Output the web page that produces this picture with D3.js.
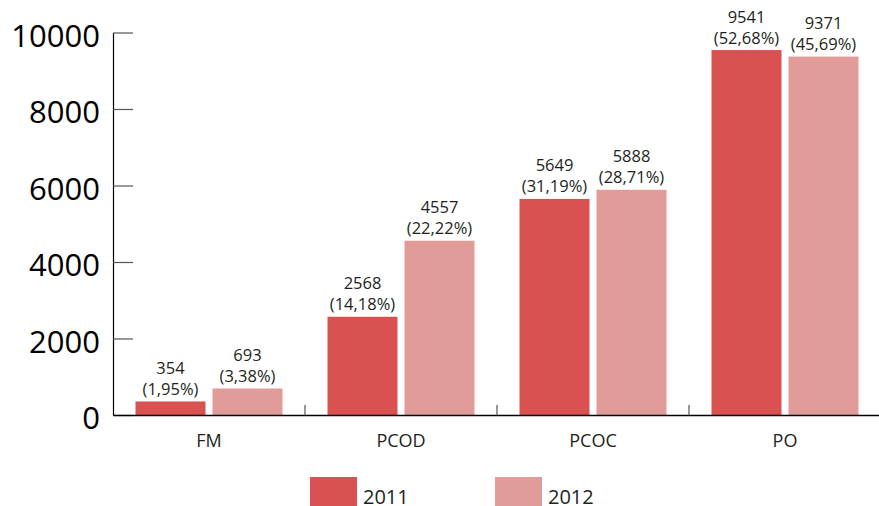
<!DOCTYPE html>
<html>
<head>
<meta charset="utf-8">
<script src="https://cdn.jsdelivr.net/npm/d3@7"></script>
<style>
  body { margin: 0; background: #fff; }
  svg { display: block; font-family: "Open Sans", sans-serif; }
</style>
</head>
<body>
<svg id="chart" width="879" height="506"></svg>
<script>
// data
var categories = ["FM", "PCOD", "PCOC", "PO"];
var years = ["2011", "2012"];
var values2011 = [354, 2568, 5649, 9541];
var values2012 = [693, 4557, 5888, 9371];
var shares2011 = ["1,95%", "14,18%", "31,19%", "52,68%"];
var shares2012 = ["3,38%", "22,22%", "28,71%", "45,69%"];
var yTicks = [0, 2000, 4000, 6000, 8000, 10000];
var colors = { "2011": "#d95150", "2012": "#e19b99" };

var rows = categories.map(function(c, i) {
    return {
        cat: c,
        bars: [
            { year: "2011", value: values2011[i], share: shares2011[i] },
            { year: "2012", value: values2012[i], share: shares2012[i] }
        ]
    };
});

var svg = d3.select("#chart");
var plotLeft = 113, plotTop = 32.5, plotBottom = 415;

var x0 = d3.scaleBand()
    .domain(categories)
    .range([plotLeft, plotLeft + 192 * categories.length]);

var x1 = d3.scaleBand()
    .domain(years)
    .range([22.5, 169.5])
    .paddingInner(7 / 77);

var y = d3.scaleLinear()
    .domain([0, 10000])
    .range([plotBottom, plotTop]);

// bars
var groups = svg.append("g").selectAll("g")
    .data(rows)
    .join("g")
    .attr("transform", function(d) { return "translate(" + x0(d.cat) + ",0)"; });

groups.selectAll("rect")
    .data(function(d) { return d.bars; })
    .join("rect")
    .attr("x", function(d) { return x1(d.year); })
    .attr("y", function(d) { return y(d.value); })
    .attr("width", x1.bandwidth())
    .attr("height", function(d) { return y(0) - y(d.value); })
    .attr("fill", function(d) { return colors[d.year]; });

// value labels, two lines
var labels = groups.selectAll("text")
    .data(function(d) { return d.bars; })
    .join("text")
    .attr("text-anchor", "middle")
    .attr("font-size", "16.5px")
    .attr("fill", "#231f20");
labels.append("tspan")
    .attr("x", function(d) { return x1(d.year) + x1.bandwidth() / 2; })
    .attr("y", function(d) { return y(d.value) - 27.5; })
    .text(function(d) { return d.value; });
labels.append("tspan")
    .attr("x", function(d) { return x1(d.year) + x1.bandwidth() / 2; })
    .attr("y", function(d) { return y(d.value) - 6.5; })
    .text(function(d) { return "(" + d.share + ")"; });

// y axis
var yAxis = svg.append("g")
    .attr("transform", "translate(" + plotLeft + ",0)")
    .call(d3.axisLeft(y).tickValues(yTicks).tickFormat(d3.format("d"))
        .tickSizeInner(-20).tickSizeOuter(0).tickPadding(13));
yAxis.select(".domain").attr("stroke", "#000").attr("stroke-width", 1.2);
yAxis.selectAll(".tick line").attr("stroke", "#555").attr("stroke-width", 1.2);
yAxis.selectAll(".tick text")
    .attr("font-size", "31px")
    .attr("font-family", "Open Sans, sans-serif")
    .attr("fill", "#000")
    .attr("dy", "0.45em");

// x axis
var xAxis = svg.append("g")
    .attr("transform", "translate(0," + plotBottom + ")")
    .call(d3.axisBottom(x0).tickSize(0).tickPadding(19));
xAxis.select(".domain").attr("stroke", "#000").attr("stroke-width", 1.4);
xAxis.selectAll(".tick text")
    .attr("font-size", "18px")
    .attr("font-family", "Open Sans, sans-serif")
    .attr("fill", "#231f20");

// category separator ticks
xAxis.selectAll(".sep")
    .data(categories.slice(1))
    .join("line")
    .attr("class", "sep")
    .attr("x1", function(d) { return x0(d); })
    .attr("x2", function(d) { return x0(d); })
    .attr("y1", -10)
    .attr("y2", 0)
    .attr("stroke", "#555")
    .attr("stroke-width", 1.2);

// legend
var legend = svg.append("g").selectAll("g")
    .data(years)
    .join("g")
    .attr("transform", function(d, i) { return "translate(" + (310 + i * 185) + ",477)"; });
legend.append("rect")
    .attr("width", 47)
    .attr("height", 32)
    .attr("fill", function(d) { return colors[d]; });
legend.append("text")
    .attr("x", 53)
    .attr("y", 27)
    .attr("font-size", "20px")
    .attr("fill", "#231f20")
    .text(function(d) { return d; });
</script>
</body>
</html>
